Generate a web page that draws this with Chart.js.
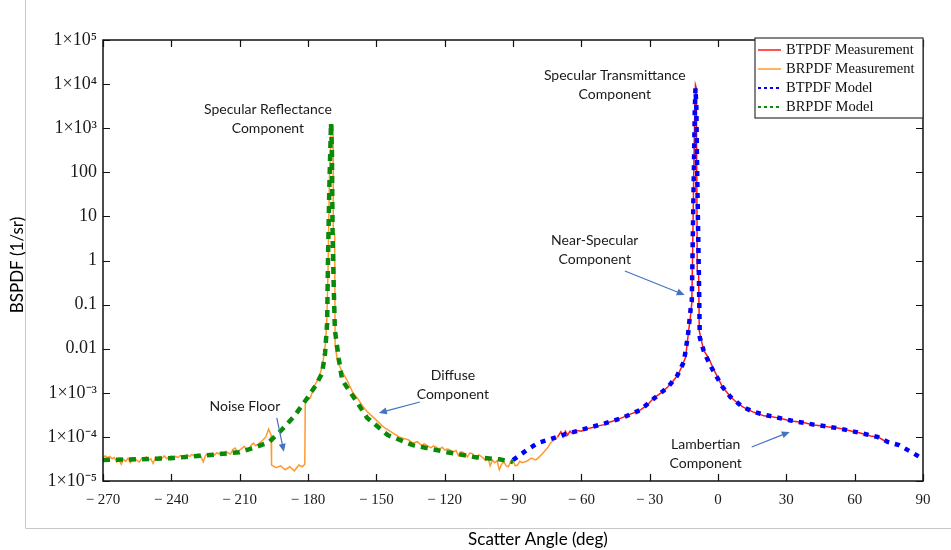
<!DOCTYPE html>
<html>
<head>
<meta charset="utf-8">
<script src="https://cdn.jsdelivr.net/npm/chart.js@4.4.1/dist/chart.umd.min.js"></script>
<style>
  html, body { margin: 0; padding: 0; background: #fff; }
  #chart { display: block; }
</style>
</head>
<body>
<canvas id="chart" width="951" height="550"></canvas>
<script>
// tick labels
const xTickLabels = ['\u2212 270', '\u2212 240', '\u2212 210', '\u2212 180', '\u2212 150', '\u2212 120', '\u2212 90', '\u2212 60', '\u2212 30', '0', '30', '60', '90'];
const yTickValues = [1e-5, 1e-4, 1e-3, 0.01, 0.1, 1, 10, 100, 1e3, 1e4, 1e5];
const yTickLabels = ['1\u00d710\u207b\u2075', '1\u00d710\u207b\u2074', '1\u00d710\u207b\u00b3', '0.01', '0.1', '1', '10', '100', '1\u00d710\u00b3', '1\u00d710\u2074', '1\u00d710\u2075'];

// BRPDF measurement (orange)
const brMeasAngle = [
  -270, -269, -268, -267, -266, -265, -264, -263, -262, -261, -260, -259, -258, -257, -256, -255, -254, -253, -252, -251,
  -250, -249, -248, -247, -246, -245, -244, -243, -242, -241, -240, -239, -238, -237, -236, -235, -234, -233, -232, -231,
  -230, -229, -228, -227, -226, -225, -224, -223, -222, -221, -220, -219, -218, -217, -216, -215, -214, -213, -212, -211,
  -210, -209, -208, -207, -206, -205, -204, -203, -202, -201, -200,
  -198.5, -197.3, -196.2, -196, -194, -192, -190, -188, -186, -184, -182.5, -181.4, -181.2, -179, -177, -175, -173.5, -172.4,
  -171.8, -171.2, -170.6, -170, -169.5, -169, -168.9, -168.3, -168.1, -167, -165, -163, -160.5, -158, -156, -154, -152, -150,
  -148, -146, -144.5, -142, -140, -138, -136, -134, -132,
  -130, -129, -128, -127, -126, -125, -124, -123, -122, -121, -120, -119, -118, -117, -116, -115, -114, -113, -112, -111,
  -110, -109, -108, -107, -106, -105, -104, -103, -102, -101, -100, -99, -98, -97, -96, -95, -94, -93, -92, -91,
  -90, -89, -88, -87, -86, -84, -82, -80, -79, -77, -75, -73.5, -72, -70.4];
const brMeasValue = [
  3.5e-5, 3.7e-5, 3.4e-5, 3.6e-5, 3.2e-5, 3.4e-5, 2.7e-5, 3.0e-5, 2.4e-5, 3.1e-5, 2.8e-5, 3.3e-5, 2.6e-5, 3.0e-5, 3.2e-5, 2.9e-5, 2.7e-5, 3.3e-5, 3.1e-5, 3.5e-5,
  3.0e-5, 3.2e-5, 2.5e-5, 3.4e-5, 3.1e-5, 3.6e-5, 3.3e-5, 3.7e-5, 3.2e-5, 3.5e-5, 3.7e-5, 3.3e-5, 3.6e-5, 3.4e-5, 3.8e-5, 3.5e-5, 3.2e-5, 3.9e-5, 3.6e-5, 4.0e-5,
  3.7e-5, 3.9e-5, 4.1e-5, 3.6e-5, 2.7e-5, 3.8e-5, 4.1e-5, 3.8e-5, 4.2e-5, 3.9e-5, 4.4e-5, 4.1e-5, 4.5e-5, 4.2e-5, 4.7e-5, 4.3e-5, 4.1e-5, 5.2e-5, 5.6e-5, 4.7e-5,
  5.0e-5, 5.5e-5, 6.1e-5, 5.4e-5, 5.2e-5, 6.4e-5, 7.2e-5, 6.3e-5, 6.8e-5, 7.5e-5, 8.3e-5,
  1.0e-4, 1.5e-4, 1.1e-4, 2.3e-5, 2.0e-5, 2.2e-5, 1.8e-5, 2.1e-5, 1.7e-5, 2.3e-5, 2.1e-5, 2.4e-5, 6.2e-4, 7.6e-4, 1.5e-3, 2.3e-3, 4.7e-3, 0.012,
  0.035, 0.61, 67, 600, 1180, 1150, 4.2, 4.0, 0.012, 5e-3, 3.0e-3, 2.0e-3, 1.05e-3, 7.2e-4, 5.0e-4, 3.7e-4, 3.0e-4, 2.4e-4,
  1.9e-4, 1.55e-4, 1.4e-4, 1.15e-4, 1.0e-4, 9.2e-5, 8.6e-5, 7.3e-5, 7.8e-5,
  6.3e-5, 7.0e-5, 6.5e-5, 6.0e-5, 5.7e-5, 6.2e-5, 6.0e-5, 5.5e-5, 5.4e-5, 5.8e-5, 5.0e-5, 5.3e-5, 5.2e-5, 4.8e-5, 4.6e-5, 4.9e-5, 3.8e-5, 4.6e-5, 4.5e-5, 4.1e-5,
  3.5e-5, 4.3e-5, 4.2e-5, 3.7e-5, 3.1e-5, 3.9e-5, 3.6e-5, 3.3e-5, 2.9e-5, 3.4e-5, 2.2e-5, 3.0e-5, 2.6e-5, 2.9e-5, 1.8e-5, 2.4e-5, 2.7e-5, 2.2e-5, 2.1e-5, 2.8e-5,
  2.9e-5, 2.2e-5, 2.3e-5, 2.8e-5, 2.6e-5, 2.8e-5, 3.3e-5, 3.0e-5, 3.3e-5, 4.2e-5, 5.5e-5, 7.3e-5, 8.5e-5, 1.0e-4];

// BTPDF measurement (red)
const btMeasAngle = [-70.4, -69, -68, -67, -66, -65, -64, -62, -60, -58, -56, -54, -52, -50, -48.5, -46, -44, -41.5, -39, -36.5, -34, -31, -28.2, -25, -22.1, -19.9, -17.7, -15.8, -14.2, -13, -12, -11.5, -11.1, -10.7, -10.3, -9.9, -9.5, -9.1, -8.5, -8.2, -7.6, -6.3, -4, -1.8, 2, 5.6, 8, 10.9, 13, 15.3, 18, 20.1, 23, 26.3, 29, 32, 35, 38, 42, 45, 48, 52.6, 55, 58.4, 61, 64.1, 67, 70.2, 72.5, 75.1];
const btMeasValue = [1.0e-4, 1.3e-4, 1.0e-4, 1.35e-4, 1.1e-4, 1.35e-4, 1.2e-4, 1.4e-4, 1.35e-4, 1.55e-4, 1.6e-4, 1.7e-4, 1.8e-4, 1.9e-4, 2.1e-4, 2.3e-4, 2.5e-4, 2.8e-4, 3.2e-4, 3.6e-4, 4.1e-4, 5.3e-4, 7.6e-4, 1.0e-3, 1.35e-3, 1.8e-3, 2.5e-3, 4.0e-3, 6.5e-3, 0.023, 0.06, 0.11, 2, 60, 1200, 9500, 8000, 0.6, 0.5, 0.025, 0.018, 9.3e-3, 6e-3, 3.3e-3, 1.35e-3, 8e-4, 6.2e-4, 4.8e-4, 4.2e-4, 3.7e-4, 3.3e-4, 3.0e-4, 2.9e-4, 2.7e-4, 2.5e-4, 2.3e-4, 2.2e-4, 2.1e-4, 1.86e-4, 1.8e-4, 1.7e-4, 1.6e-4, 1.5e-4, 1.36e-4, 1.28e-4, 1.16e-4, 1.05e-4, 1.0e-4, 8.5e-5, 7.3e-5];

// BTPDF model (blue dashed)
const btModelAngle = [-90, -84, -79, -73.5, -67, -62, -57, -50, -42, -34, -28, -22, -18, -15, -13.2, -12, -11.5, -11.1, -10.6, -10.2, -9.9, -9.5, -9.2, -8.8, -8.4, -8, -6.3, -4.5, -2.3, 2, 5.5, 10.5, 15, 20, 26, 32, 42, 52, 58, 64, 70, 75, 79.5, 84, 89, 90];
const btModelValue = [3.0e-5, 5.0e-5, 7.3e-5, 8.9e-5, 1.15e-4, 1.35e-4, 1.6e-4, 2.0e-4, 2.7e-4, 4.1e-4, 7.5e-4, 1.35e-3, 2.4e-3, 5e-3, 0.02, 0.08, 0.12, 2.5, 100, 2500, 8100, 3000, 150, 8, 0.5, 0.018, 9.0e-3, 5.5e-3, 3.3e-3, 1.35e-3, 8.0e-4, 4.9e-4, 3.8e-4, 3.2e-4, 2.75e-4, 2.35e-4, 1.9e-4, 1.6e-4, 1.38e-4, 1.18e-4, 1.0e-4, 7.5e-5, 6.5e-5, 4.8e-5, 3.4e-5, 3.2e-5];

// BRPDF model (green dashed)
const brModelAngle = [-270, -255, -240, -225, -210, -203, -197, -191.5, -185.7, -180, -176.5, -173.8, -172.5, -171.6, -171.2, -170.7, -170.3, -169.9, -169.5, -169.2, -168.8, -168.2, -166.5, -165, -160, -154, -145, -134, -119, -107, -96, -90];
const brModelValue = [3.0e-5, 3.1e-5, 3.3e-5, 3.8e-5, 4.5e-5, 5.8e-5, 7.7e-5, 1.45e-4, 3.1e-4, 8.0e-4, 1.5e-3, 2.8e-3, 8e-3, 0.038, 1.2, 30, 220, 1310, 300, 4.2, 0.4, 0.0265, 6e-3, 1.95e-3, 8.0e-4, 2.7e-4, 1.1e-4, 6.5e-5, 4.5e-5, 3.5e-5, 3.1e-5, 2.7e-5];

// annotation texts, anchored in data coordinates (angle, value)
const notes = [
  { lines: ['Specular Reflectance', 'Component'], x: -197.6, y: 2600 },
  { lines: ['Specular Transmittance', 'Component'], x: -45.3, y: 16000 },
  { lines: ['Near-Specular', 'Component'], x: -54.1, y: 2.9 },
  { lines: ['Diffuse', 'Component'], x: -116.4, y: 2.5e-3 },
  { lines: ['Noise Floor'], x: -207.7, y: 4.8e-4 },
  { lines: ['Lambertian', 'Component'], x: -5.4, y: 6.6e-5 }
];
const arrows = [
  { from: [-193.7, 2.7e-4], to: [-190.6, 4.6e-5] },
  { from: [-130.9, 6.2e-4], to: [-148.9, 3.5e-4] },
  { from: [-40.9, 0.58], to: [-14.6, 0.165] },
  { from: [14.8, 5.9e-5], to: [31.5, 1.3e-4] }
];

const toPoints = (xs, ys) => xs.map((a, i) => ({ x: a, y: ys[i] }));

const decorations = {
  id: 'decorations',
  beforeDraw(chart) {
    const ctx = chart.ctx;
    ctx.save();
    ctx.fillStyle = '#fff';
    ctx.fillRect(0, 0, chart.width, chart.height);
    ctx.strokeStyle = '#c8c8c8';
    ctx.lineWidth = 1;
    ctx.beginPath();
    ctx.moveTo(25.5, 0);
    ctx.lineTo(25.5, 528.5);
    ctx.lineTo(chart.width, 528.5);
    ctx.stroke();
    ctx.restore();
  },
  afterDraw(chart) {
    const ctx = chart.ctx;
    const { left, right, top, bottom } = chart.chartArea;
    const xs = chart.scales.x, ys = chart.scales.y;
    ctx.save();
    // frame and inward ticks
    ctx.strokeStyle = '#111';
    ctx.lineWidth = 1.5;
    ctx.strokeRect(left, top, right - left, bottom - top);
    ctx.lineWidth = 1.2;
    ctx.beginPath();
    ys.ticks.forEach(t => {
      const py = Math.round(ys.getPixelForValue(t.value)) + 0.5;
      ctx.moveTo(left, py); ctx.lineTo(left + 7, py);
      ctx.moveTo(right, py); ctx.lineTo(right - 7, py);
    });
    xs.ticks.forEach(t => {
      const px = Math.round(xs.getPixelForValue(t.value)) + 0.5;
      ctx.moveTo(px, bottom); ctx.lineTo(px, bottom - 7);
      ctx.moveTo(px, top); ctx.lineTo(px, top + 7);
    });
    ctx.stroke();

    // annotations
    ctx.fillStyle = '#1a1a1a';
    ctx.font = '14px Lato';
    ctx.textAlign = 'center';
    ctx.textBaseline = 'middle';
    notes.forEach(n => {
      const px = xs.getPixelForValue(n.x);
      const py = ys.getPixelForValue(n.y);
      n.lines.forEach((s, i) => ctx.fillText(s, px, py + i * 19));
    });
    ctx.strokeStyle = '#4472c4';
    ctx.fillStyle = '#4472c4';
    ctx.lineWidth = 1.2;
    arrows.forEach(a => {
      const x1 = xs.getPixelForValue(a.from[0]), y1 = ys.getPixelForValue(a.from[1]);
      const x2 = xs.getPixelForValue(a.to[0]), y2 = ys.getPixelForValue(a.to[1]);
      const ang = Math.atan2(y2 - y1, x2 - x1);
      ctx.beginPath();
      ctx.moveTo(x1, y1);
      ctx.lineTo(x2 - 6 * Math.cos(ang), y2 - 6 * Math.sin(ang));
      ctx.stroke();
      ctx.beginPath();
      ctx.moveTo(x2, y2);
      ctx.lineTo(x2 - 8 * Math.cos(ang) + 3.5 * Math.sin(ang), y2 - 8 * Math.sin(ang) - 3.5 * Math.cos(ang));
      ctx.lineTo(x2 - 8 * Math.cos(ang) - 3.5 * Math.sin(ang), y2 - 8 * Math.sin(ang) + 3.5 * Math.cos(ang));
      ctx.closePath();
      ctx.fill();
    });

    // axis titles
    ctx.fillStyle = '#000';
    ctx.font = '17px Lato';
    ctx.fillText('Scatter Angle (deg)', 538, 540);
    ctx.save();
    ctx.translate(18, 265);
    ctx.rotate(-Math.PI / 2);
    ctx.fillText('BSPDF (1/sr)', 0, 0);
    ctx.restore();

    // legend box inside plot, top right
    const lw = 168, lh = 80;
    const lx = right - lw, ly = top - 2;
    ctx.fillStyle = '#fff';
    ctx.fillRect(lx, ly, lw, lh);
    ctx.strokeStyle = '#333';
    ctx.lineWidth = 1.2;
    ctx.strokeRect(lx, ly, lw, lh);
    ctx.font = '14.5px "Liberation Serif"';
    ctx.textAlign = 'left';
    chart.data.datasets.forEach((ds, i) => {
      const cy = ly + 12 + i * 19;
      ctx.strokeStyle = ds.borderColor;
      ctx.lineWidth = ds.borderDash ? 2 : 1.5;
      ctx.setLineDash(ds.borderDash ? [3, 3] : []);
      ctx.beginPath();
      ctx.moveTo(lx + 3, cy);
      ctx.lineTo(lx + 26, cy);
      ctx.stroke();
      ctx.setLineDash([]);
      ctx.fillStyle = '#111';
      ctx.fillText(ds.label, lx + 31, cy);
    });
    ctx.restore();
  }
};

new Chart(document.getElementById('chart').getContext('2d'), {
  type: 'line',
  data: {
    datasets: [
      { label: 'BTPDF Measurement', data: toPoints(btMeasAngle, btMeasValue), borderColor: '#ff1a1a', borderWidth: 1.5, order: 1 },
      { label: 'BRPDF Measurement', data: toPoints(brMeasAngle, brMeasValue), borderColor: '#ff9a2e', borderWidth: 1.5, order: 1 },
      { label: 'BTPDF Model', data: toPoints(btModelAngle, btModelValue), borderColor: '#0000ff', borderWidth: 4.5, borderDash: [5, 6], order: 0 },
      { label: 'BRPDF Model', data: toPoints(brModelAngle, brModelValue), borderColor: '#0a8a0a', borderWidth: 4.5, borderDash: [7, 6], order: 0 }
    ]
  },
  options: {
    responsive: false,
    animation: false,
    devicePixelRatio: 1,
    layout: { padding: { top: 40, right: 28, left: 0, bottom: 0 } },
    elements: { point: { radius: 0 }, line: { tension: 0 } },
    plugins: { legend: { display: false }, tooltip: { enabled: false } },
    scales: {
      x: {
        type: 'linear',
        min: -270,
        max: 90,
        grid: { display: false, drawTicks: false },
        border: { display: false },
        afterFit: s => { s.height = 69; },
        ticks: {
          stepSize: 30,
          autoSkip: false,
          maxRotation: 0,
          padding: 10,
          color: '#1a1a1a',
          font: { family: '"Liberation Serif"', size: 15 },
          callback: (v, i) => xTickLabels[i]
        }
      },
      y: {
        type: 'logarithmic',
        min: 1e-5,
        max: 1e5,
        grid: { display: false, drawTicks: false },
        border: { display: false },
        afterFit: s => { s.width = 103; },
        afterBuildTicks: s => { s.ticks = yTickValues.map(v => ({ value: v })); },
        ticks: {
          padding: 6,
          color: '#1a1a1a',
          font: { family: '"Liberation Serif"', size: 18 },
          callback: (v, i) => yTickLabels[i]
        }
      }
    }
  },
  plugins: [decorations]
});
</script>
</body>
</html>
